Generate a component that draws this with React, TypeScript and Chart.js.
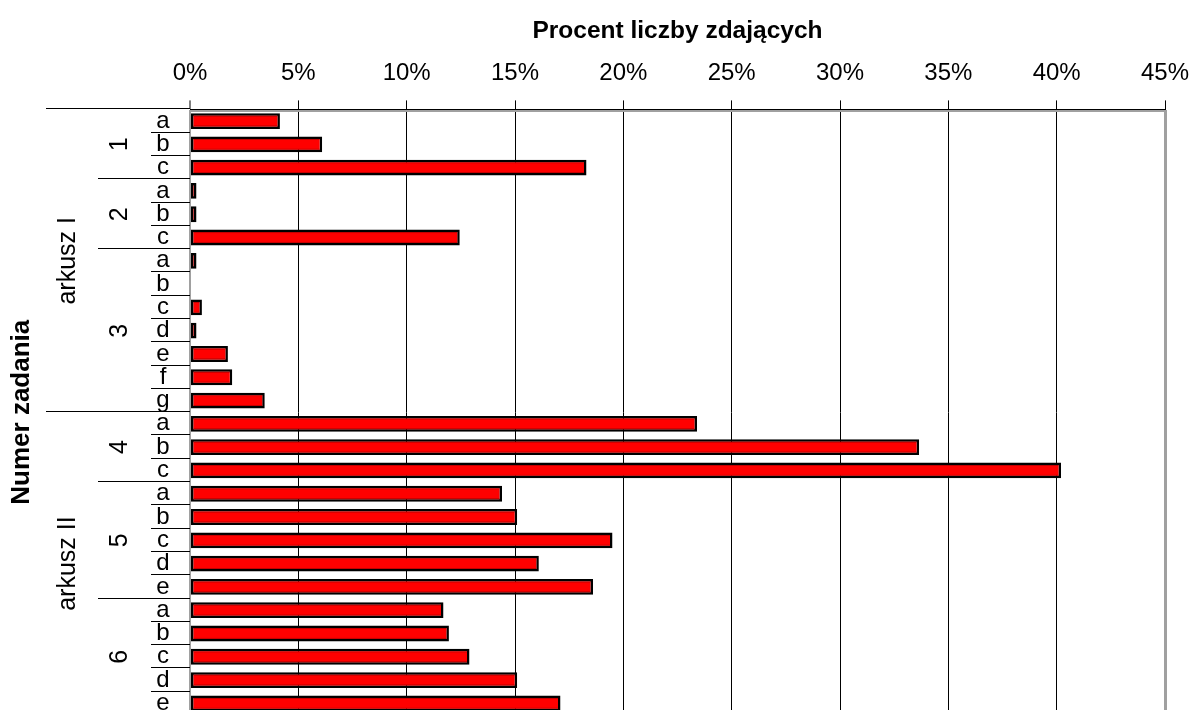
import React, { useEffect, useRef } from "react";
import { Chart, registerables } from "chart.js";

Chart.register(...registerables);

const letters = ["a","b","c","a","b","c","a","b","c","d","e","f","g","a","b","c","a","b","c","d","e","a","b","c","d","e"];
const groups = ["1","1","1","2","2","2","3","3","3","3","3","3","3","4","4","4","5","5","5","5","5","6","6","6","6","6"];
const sheets = ["arkusz I","arkusz I","arkusz I","arkusz I","arkusz I","arkusz I","arkusz I","arkusz I","arkusz I","arkusz I","arkusz I","arkusz I","arkusz I",
  "arkusz II","arkusz II","arkusz II","arkusz II","arkusz II","arkusz II","arkusz II","arkusz II","arkusz II","arkusz II","arkusz II","arkusz II","arkusz II"];
const values = [4.15, 6.1, 18.3, 0.3, 0.3, 12.45, 0.3, 0, 0.55, 0.3, 1.75, 1.95, 3.45, 23.4, 33.65, 40.2, 14.4, 15.1, 19.5, 16.1, 18.6, 11.7, 11.95, 12.9, 15.1, 17.1];
const xTicks = [0, 5, 10, 15, 20, 25, 30, 35, 40, 45];
const xTitle = "Procent liczby zdających";
const yTitle = "Numer zadania";

const FONT = "'Liberation Sans', Arial, Helvetica, sans-serif";

const leftLabels = {
  id: "leftLabels",
  afterDraw(chart: any) {
    const ctx = chart.ctx;
    const area = chart.chartArea;
    const ys = chart.scales.y;
    const n = letters.length;
    const px = (i: number) => ys.getPixelForValue(i);
    const boundary = (i: number) => {
      if (i === 0) return area.top;
      if (i === n) return area.bottom;
      return (px(i - 1) + px(i)) / 2;
    };
    ctx.save();
    ctx.strokeStyle = "#000";
    ctx.lineWidth = 1;
    for (let i = 0; i < n; i++) {
      let x0 = 151;
      if (i === 0 || sheets[i] !== sheets[i - 1]) x0 = 46;
      else if (groups[i] !== groups[i - 1]) x0 = 98;
      const yb = Math.round(boundary(i)) - 0.5;
      ctx.beginPath();
      ctx.moveTo(x0, yb);
      ctx.lineTo(area.left, yb);
      ctx.stroke();
    }
    ctx.strokeStyle = "#a0a0a0";
    ctx.lineWidth = 2;
    ctx.beginPath();
    ctx.moveTo(area.left, area.top + 1.5);
    ctx.lineTo(area.right, area.top + 1.5);
    ctx.stroke();

    ctx.fillStyle = "#000";
    ctx.textAlign = "center";
    ctx.textBaseline = "middle";
    ctx.font = `24px ${FONT}`;
    for (let i = 0; i < n; i++) {
      ctx.fillText(letters[i], 163, px(i));
    }
    const drawRot = (text: string, x: number, y: number, font: string) => {
      ctx.save();
      ctx.translate(x, y);
      ctx.rotate(-Math.PI / 2);
      ctx.font = font;
      ctx.fillText(text, 0, 0);
      ctx.restore();
    };
    let s = 0;
    for (let i = 1; i <= n; i++) {
      if (i === n || groups[i] !== groups[s]) {
        const yc = (boundary(s) + boundary(i)) / 2;
        drawRot(groups[s], 120, yc, `25px ${FONT}`);
        s = i;
      }
    }
    s = 0;
    for (let i = 1; i <= n; i++) {
      if (i === n || sheets[i] !== sheets[s]) {
        const yc = (boundary(s) + boundary(i)) / 2;
        drawRot(sheets[s], 68, yc, `25px ${FONT}`);
        s = i;
      }
    }
    drawRot(yTitle, 22, (area.top + area.bottom) / 2, `bold 26px ${FONT}`);
    ctx.restore();
  },
  afterDatasetsDraw(chart: any) {
    const ctx = chart.ctx;
    const meta = chart.getDatasetMeta(0);
    ctx.save();
    ctx.strokeStyle = "rgba(170,0,0,0.7)";
    ctx.lineWidth = 1;
    meta.data.forEach((el: any) => {
      const x0 = Math.min(el.base, el.x);
      const x1 = Math.max(el.base, el.x);
      const y0 = el.y - el.height / 2;
      const y1 = el.y + el.height / 2;
      if (x1 - x0 > 8) {
        ctx.beginPath();
        ctx.moveTo(x0 + 2.5, y0 + 3);
        ctx.lineTo(x1 - 2.5, y0 + 3);
        ctx.moveTo(x0 + 2.5, y1 - 3);
        ctx.lineTo(x1 - 2.5, y1 - 3);
        ctx.stroke();
      }
    });
    ctx.restore();
  },
};

export default function App() {
  const ref = useRef<HTMLCanvasElement>(null);
  useEffect(() => {
    if (!ref.current) return;
    const chart = new Chart(ref.current, {
      type: "bar",
      data: {
        labels: letters.map((l, i) => groups[i] + l),
        datasets: [
          {
            data: values,
            backgroundColor: "#ff0000",
            borderColor: "#000000",
            borderWidth: 2.5,
            borderSkipped: false,
            barPercentage: 0.68,
            categoryPercentage: 1,
          },
        ],
      },
      plugins: [leftLabels],
      options: {
        indexAxis: "y",
        animation: false,
        responsive: false,
        maintainAspectRatio: false,
        layout: { padding: { left: 190, right: 28, top: 13, bottom: 15 } },
        plugins: { legend: { display: false }, tooltip: { enabled: false } },
        scales: {
          x: {
            position: "top",
            min: 0,
            max: 45,
            afterBuildTicks: (scale: any) => {
              scale.ticks = xTicks.map((v) => ({ value: v }));
            },
            afterFit: (scale: any) => {
              scale.paddingLeft = 0;
              scale.paddingRight = 0;
            },
            ticks: {
              color: "#000",
              font: { family: FONT, size: 24 },
              padding: 12.6,
              callback: (v: any) => `${v}%`,
            },
            grid: {
              color: (c: any) => (c.index === 0 || c.index === xTicks.length - 1 ? "#a0a0a0" : "#000"),
              lineWidth: (c: any) => (c.index === 0 ? 2 : c.index === xTicks.length - 1 ? 3 : 1),
              tickColor: "#000",
              tickWidth: 1,
              tickLength: 9,
              drawTicks: true,
            },
            border: { display: true, color: "#000", width: 1 },
            title: {
              display: true,
              text: xTitle,
              color: "#000",
              font: { family: FONT, size: 24.5, weight: "bold" },
              padding: { top: 4, bottom: 0 },
            },
          },
          y: {
            display: false,
          },
        },
      },
    });
    return () => chart.destroy();
  }, []);
  return (
    <div style={{ position: "fixed", left: 0, top: 0, width: 1193, height: 710, overflow: "hidden", background: "#fff" }}>
      <canvas ref={ref} width={1193} height={730} style={{ display: "block" }} />
    </div>
  );
}
